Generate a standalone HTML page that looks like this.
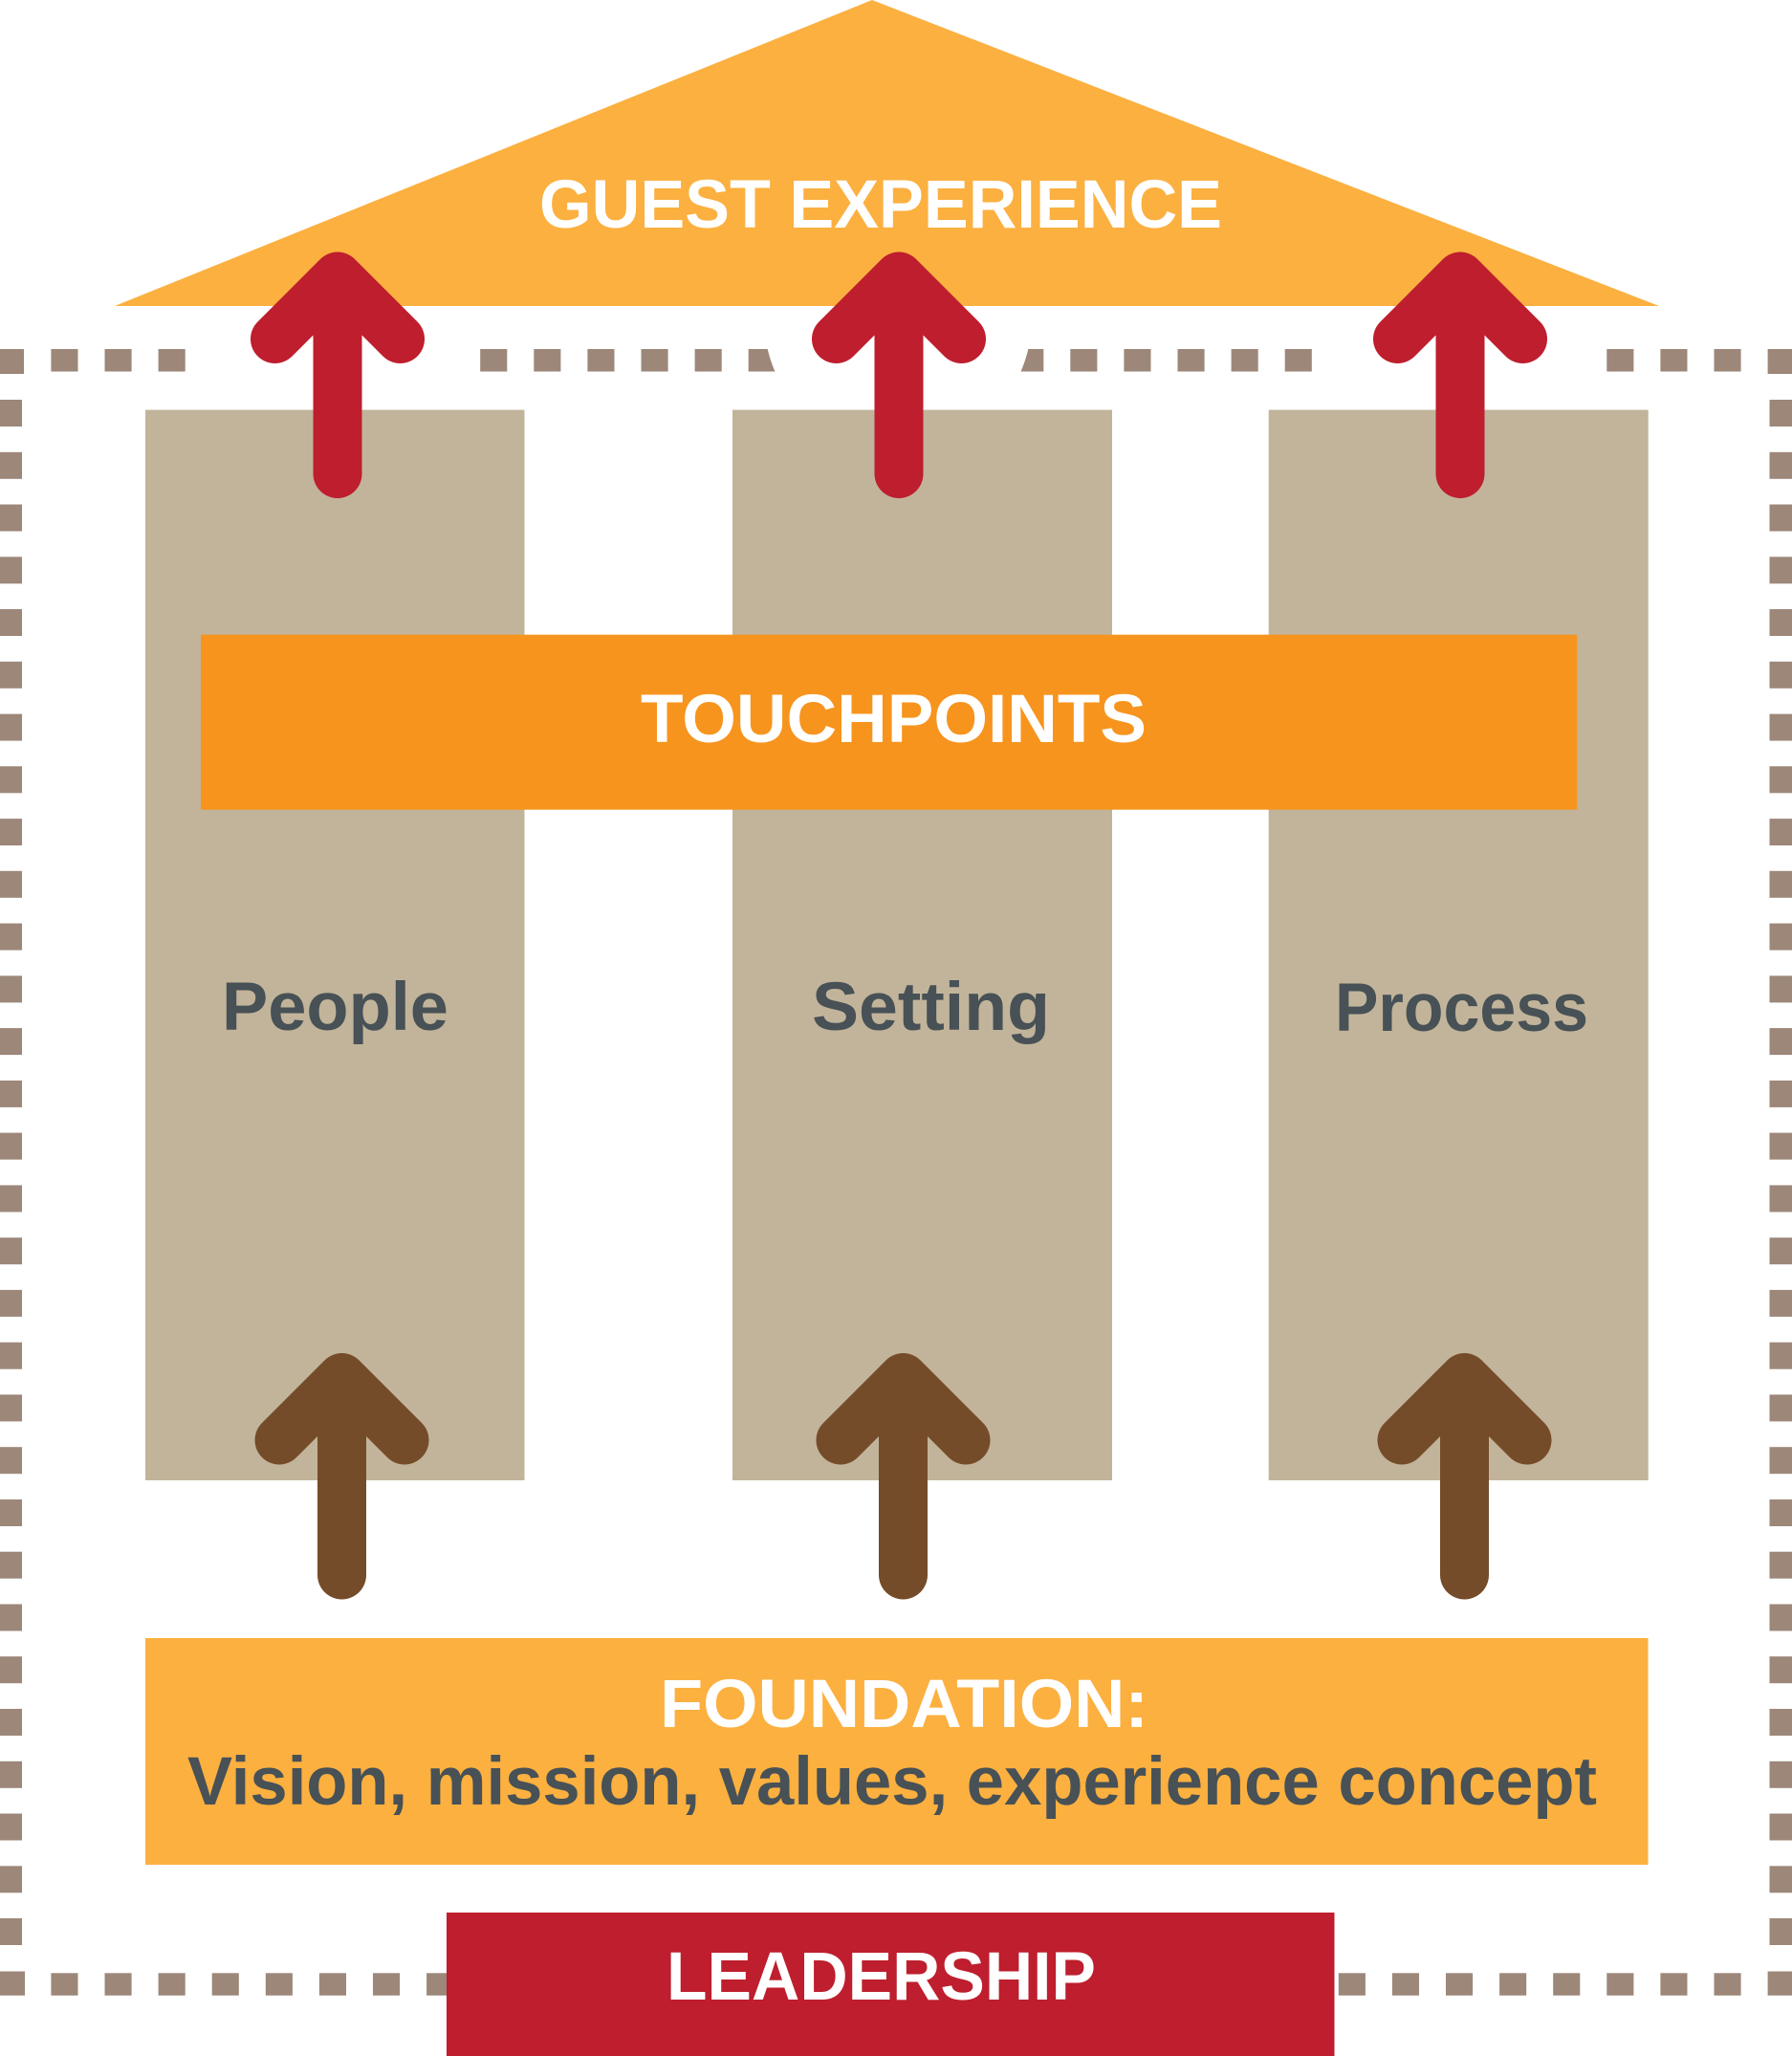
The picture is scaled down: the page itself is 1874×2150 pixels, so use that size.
<!DOCTYPE html>
<html>
<head>
<meta charset="utf-8">
<style>
html,body{margin:0;padding:0;background:#fff;}
svg{display:block;}
text{font-family:"Liberation Sans",Arial,sans-serif;font-weight:700;}
</style>
</head>
<body>
<svg width="1874" height="2150" viewBox="0 0 1874 2150" xmlns="http://www.w3.org/2000/svg">
<rect x="0" y="0" width="1874" height="2150" fill="#ffffff"/>
<g fill="#9C8779">
<rect x="0" y="365" width="25" height="26"/>
<rect x="53.4" y="365" width="28.1" height="23.5"/>
<rect x="109.5" y="365" width="28.1" height="23.5"/>
<rect x="165.6" y="365" width="28.1" height="23.5"/>
<rect x="502.2" y="365" width="28.1" height="23.5"/>
<rect x="558.3" y="365" width="28.1" height="23.5"/>
<rect x="614.4" y="365" width="28.1" height="23.5"/>
<rect x="670.5" y="365" width="28.1" height="23.5"/>
<rect x="726.6" y="365" width="28.1" height="23.5"/>
<rect x="782.7" y="365" width="28.1" height="23.5"/>
<rect x="838.8" y="365" width="28.1" height="23.5"/>
<rect x="894.9" y="365" width="28.1" height="23.5"/>
<rect x="951.0" y="365" width="28.1" height="23.5"/>
<rect x="1007.1" y="365" width="28.1" height="23.5"/>
<rect x="1063.2" y="365" width="28.1" height="23.5"/>
<rect x="1119.3" y="365" width="28.1" height="23.5"/>
<rect x="1175.4" y="365" width="28.1" height="23.5"/>
<rect x="1231.5" y="365" width="28.1" height="23.5"/>
<rect x="1287.6" y="365" width="28.1" height="23.5"/>
<rect x="1343.7" y="365" width="28.1" height="23.5"/>
<rect x="1399.8" y="365" width="28.1" height="23.5"/>
<rect x="1455.9" y="365" width="28.1" height="23.5"/>
<rect x="1512.0" y="365" width="28.1" height="23.5"/>
<rect x="1568.1" y="365" width="28.1" height="23.5"/>
<rect x="1624.2" y="365" width="28.1" height="23.5"/>
<rect x="1680.3" y="365" width="28.1" height="23.5"/>
<rect x="1736.4" y="365" width="28.1" height="23.5"/>
<rect x="1792.5" y="365" width="28.1" height="23.5"/>
<rect x="1848.6" y="365" width="25.4" height="26"/>

<rect x="0" y="418.0" width="23" height="28"/><rect x="1850.5" y="418.0" width="23.5" height="28"/>
<rect x="0" y="472.8" width="23" height="28"/><rect x="1850.5" y="472.8" width="23.5" height="28"/>
<rect x="0" y="527.5" width="23" height="28"/><rect x="1850.5" y="527.5" width="23.5" height="28"/>
<rect x="0" y="582.3" width="23" height="28"/><rect x="1850.5" y="582.3" width="23.5" height="28"/>
<rect x="0" y="637.0" width="23" height="28"/><rect x="1850.5" y="637.0" width="23.5" height="28"/>
<rect x="0" y="691.8" width="23" height="28"/><rect x="1850.5" y="691.8" width="23.5" height="28"/>
<rect x="0" y="746.6" width="23" height="28"/><rect x="1850.5" y="746.6" width="23.5" height="28"/>
<rect x="0" y="801.3" width="23" height="28"/><rect x="1850.5" y="801.3" width="23.5" height="28"/>
<rect x="0" y="856.1" width="23" height="28"/><rect x="1850.5" y="856.1" width="23.5" height="28"/>
<rect x="0" y="910.8" width="23" height="28"/><rect x="1850.5" y="910.8" width="23.5" height="28"/>
<rect x="0" y="965.6" width="23" height="28"/><rect x="1850.5" y="965.6" width="23.5" height="28"/>
<rect x="0" y="1020.4" width="23" height="28"/><rect x="1850.5" y="1020.4" width="23.5" height="28"/>
<rect x="0" y="1075.1" width="23" height="28"/><rect x="1850.5" y="1075.1" width="23.5" height="28"/>
<rect x="0" y="1129.9" width="23" height="28"/><rect x="1850.5" y="1129.9" width="23.5" height="28"/>
<rect x="0" y="1184.6" width="23" height="28"/><rect x="1850.5" y="1184.6" width="23.5" height="28"/>
<rect x="0" y="1239.4" width="23" height="28"/><rect x="1850.5" y="1239.4" width="23.5" height="28"/>
<rect x="0" y="1294.2" width="23" height="28"/><rect x="1850.5" y="1294.2" width="23.5" height="28"/>
<rect x="0" y="1348.9" width="23" height="28"/><rect x="1850.5" y="1348.9" width="23.5" height="28"/>
<rect x="0" y="1403.7" width="23" height="28"/><rect x="1850.5" y="1403.7" width="23.5" height="28"/>
<rect x="0" y="1458.4" width="23" height="28"/><rect x="1850.5" y="1458.4" width="23.5" height="28"/>
<rect x="0" y="1513.2" width="23" height="28"/><rect x="1850.5" y="1513.2" width="23.5" height="28"/>
<rect x="0" y="1568.0" width="23" height="28"/><rect x="1850.5" y="1568.0" width="23.5" height="28"/>
<rect x="0" y="1622.7" width="23" height="28"/><rect x="1850.5" y="1622.7" width="23.5" height="28"/>
<rect x="0" y="1677.5" width="23" height="28"/><rect x="1850.5" y="1677.5" width="23.5" height="28"/>
<rect x="0" y="1732.2" width="23" height="28"/><rect x="1850.5" y="1732.2" width="23.5" height="28"/>
<rect x="0" y="1787.0" width="23" height="28"/><rect x="1850.5" y="1787.0" width="23.5" height="28"/>
<rect x="0" y="1841.8" width="23" height="28"/><rect x="1850.5" y="1841.8" width="23.5" height="28"/>
<rect x="0" y="1896.5" width="23" height="28"/><rect x="1850.5" y="1896.5" width="23.5" height="28"/>
<rect x="0" y="1951.3" width="23" height="28"/><rect x="1850.5" y="1951.3" width="23.5" height="28"/>
<rect x="0" y="2006.0" width="23" height="28"/><rect x="1850.5" y="2006.0" width="23.5" height="28"/>

<rect x="0" y="2061.5" width="26" height="25.2"/>
<rect x="53.4" y="2063.3" width="28.1" height="23.4"/>
<rect x="109.5" y="2063.3" width="28.1" height="23.4"/>
<rect x="165.6" y="2063.3" width="28.1" height="23.4"/>
<rect x="221.7" y="2063.3" width="28.1" height="23.4"/>
<rect x="277.8" y="2063.3" width="28.1" height="23.4"/>
<rect x="333.9" y="2063.3" width="28.1" height="23.4"/>
<rect x="390.0" y="2063.3" width="28.1" height="23.4"/>
<rect x="446.1" y="2063.3" width="28.1" height="23.4"/>
<rect x="1399.8" y="2063.3" width="28.1" height="23.4"/>
<rect x="1455.9" y="2063.3" width="28.1" height="23.4"/>
<rect x="1512.0" y="2063.3" width="28.1" height="23.4"/>
<rect x="1568.1" y="2063.3" width="28.1" height="23.4"/>
<rect x="1624.2" y="2063.3" width="28.1" height="23.4"/>
<rect x="1680.3" y="2063.3" width="28.1" height="23.4"/>
<rect x="1736.4" y="2063.3" width="28.1" height="23.4"/>
<rect x="1792.5" y="2063.3" width="28.1" height="23.4"/>
<rect x="1848.6" y="2061.5" width="25.4" height="25.2"/>
</g>

<!-- white halos cutting the top dashed line -->
<g fill="#ffffff">
<circle cx="939" cy="333" r="140"/>
<circle cx="1527" cy="333" r="140"/>
</g>

<!-- roof -->
<polygon points="912,0 1735,320 120,320" fill="#FBB040"/>

<!-- pillars -->
<g fill="#C2B49A">
<rect x="152" y="428.6" width="396.5" height="1119.4"/>
<rect x="766" y="428.6" width="397" height="1119.4"/>
<rect x="1326.7" y="428.6" width="397" height="1119.4"/>
</g>

<!-- touchpoints -->
<rect x="210" y="663.7" width="1439.2" height="183" fill="#F7941E"/>

<!-- foundation -->
<rect x="152" y="1713" width="1571.5" height="237" fill="#FBB040"/>

<!-- leadership -->
<rect x="467" y="2000" width="928.5" height="150" fill="#BE1E2D"/>

<!-- red arrows -->
<g fill="none" stroke="#BE1E2D" stroke-width="51" stroke-linecap="round" stroke-linejoin="round">
<path d="M287.5,354.5 L353,289 L418.5,354.5 M353,289 L353,495.5"/>
<path d="M874.5,354.5 L940,289 L1005.5,354.5 M940,289 L940,495.5"/>
<path d="M1461.5,354.5 L1527,289 L1592.5,354.5 M1527,289 L1527,495.5"/>
</g>

<!-- brown arrows -->
<g fill="none" stroke="#754C29" stroke-width="51" stroke-linecap="round" stroke-linejoin="round">
<path d="M292,1506 L357.5,1440.5 L423,1506 M357.5,1440.5 L357.5,1647"/>
<path d="M879,1506 L944.5,1440.5 L1010,1506 M944.5,1440.5 L944.5,1647"/>
<path d="M1466,1506 L1531.5,1440.5 L1597,1506 M1531.5,1440.5 L1531.5,1647"/>
</g>

<!-- text -->
<text x="564" y="238" font-size="71" fill="#ffffff" textLength="714" lengthAdjust="spacingAndGlyphs">GUEST EXPERIENCE</text>
<text x="670" y="776" font-size="71" fill="#ffffff" textLength="529" lengthAdjust="spacingAndGlyphs">TOUCHPOINTS</text>
<text x="232" y="1077" font-size="71" fill="#475156" textLength="237" lengthAdjust="spacingAndGlyphs">People</text>
<text x="849" y="1077" font-size="71" fill="#475156" textLength="249" lengthAdjust="spacingAndGlyphs">Setting</text>
<text x="1396" y="1078" font-size="71" fill="#475156" textLength="265" lengthAdjust="spacingAndGlyphs">Process</text>
<text x="690" y="1806" font-size="71" fill="#ffffff" textLength="511" lengthAdjust="spacingAndGlyphs">FOUNDATION:</text>
<text x="196" y="1887" font-size="71" fill="#475156" textLength="1474" lengthAdjust="spacingAndGlyphs">Vision, mission, values, experience concept</text>
<text x="697" y="2091" font-size="71" fill="#ffffff" textLength="449" lengthAdjust="spacingAndGlyphs">LEADERSHIP</text>
</svg>
</body>
</html>
